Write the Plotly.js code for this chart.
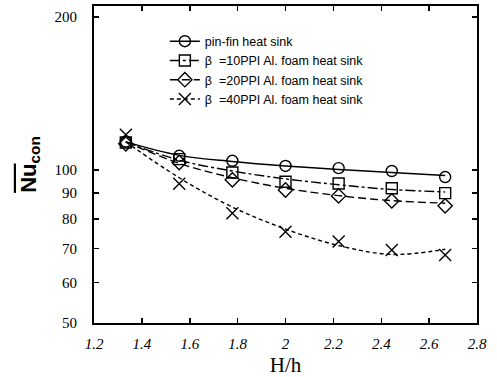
<!DOCTYPE html>
<html>
<head>
<meta charset="utf-8">
<script src="https://cdn.plot.ly/plotly-3.0.1.min.js"></script>
<style>html,body{margin:0;padding:0;background:#fff;}#chart{width:497px;height:377px;}</style>
</head>
<body>
<div id="chart"></div>
<script>
// H/h values
var hRatio = [1.333, 1.556, 1.778, 2.0, 2.222, 2.444, 2.667];

// measured points
var pinFin = [113.7, 106.6, 104.2, 101.8, 100.8, 99.5, 96.8];
var foam10 = [113.2, 105.0, 98.8, 94.8, 94.0, 92.0, 90.0];
var foam20 = [112.5, 103.4, 95.6, 91.3, 88.9, 86.9, 85.0];
var foam40 = [117.2, 93.9, 82.2, 75.6, 72.3, 69.6, 68.0];

// fitted curves as drawn in the figure
var pinFinFit = [113.5, 106.8, 103.9, 101.8, 100.2, 98.8, 97.5];
var foam10Fit = [113.5, 104.5, 99.5, 96.0, 93.5, 91.5, 90.5];
var foam20Fit = [113.5, 103.0, 96.5, 92.0, 89.0, 87.0, 86.0];
var foam40Fit = [113.5, 96.5, 84.5, 76.5, 71.0, 68.2, 69.8];

var names = ['pin-fin heat sink', '\u03b2  =10PPI Al. foam heat sink', '\u03b2  =20PPI Al. foam heat sink', '\u03b2  =40PPI Al. foam heat sink'];
var pointSets = [pinFin, foam10, foam20, foam40];
var fitSets = [pinFinFit, foam10Fit, foam20Fit, foam40Fit];

var symbols = ['circle-open', 'square-open', 'diamond-open', 'x-thin-open'];
var sizes = [11, 11, 11, 12];
var dashes = ['solid', '10px,3px,3px,3px', '8px,4px', '4px,3px'];

var traces = [];
for (var i = 0; i < 4; i++) {
  traces.push({
    x: hRatio, y: fitSets[i], mode: 'lines', type: 'scatter', line: {shape: 'spline', color: '#000', width: 1.4, dash: dashes[i]},
    showlegend: false, hoverinfo: 'skip'
  });
  traces.push({
    x: hRatio, y: pointSets[i], mode: 'markers', type: 'scatter',
    marker: {symbol: symbols[i], size: sizes[i], color: '#000', line: {color: '#000', width: 1.4}},
    showlegend: false
  });
}
for (var j = 0; j < 4; j++) {
  traces.push({
    x: [null], y: [null], mode: 'lines+markers', type: 'scatter', name: names[j],
    line: {color: '#000', width: 1.4, dash: dashes[j]},
    marker: {symbol: symbols[j], size: sizes[j], color: '#000', line: {color: '#000', width: 1.4}}
  });
}

var xTicks = [1.2, 1.4, 1.6, 1.8, 2, 2.2, 2.4, 2.6, 2.8];
var yTicks = [50, 60, 70, 80, 90, 100, 200];

var layout = {
  width: 497, height: 377,
  margin: {l: 94, r: 20, t: 6, b: 54},
  paper_bgcolor: '#fff', plot_bgcolor: '#fff',
  showlegend: true,
  legend: {x: 0.185, y: 0.935, xanchor: 'left', yanchor: 'top', bgcolor: 'rgba(0,0,0,0)', borderwidth: 0,
    font: {family: 'Liberation Sans, Arial, sans-serif', size: 12.5, color: '#000'}, tracegroupgap: 0},
  xaxis: {
    range: [1.2, 2.8], tickvals: xTicks, ticktext: xTicks.map(String),
    ticks: 'inside', ticklen: 5, tickwidth: 1.5, tickcolor: '#000',
    showline: true, linecolor: '#000', linewidth: 2, mirror: 'ticks', showgrid: false, zeroline: false,
    tickfont: {family: 'Liberation Serif, Times New Roman, serif', size: 15, color: '#000', style: 'italic'},
    ticklabelstandoff: 6,
    title: {text: 'H/h', font: {family: 'Liberation Serif, Times New Roman, serif', size: 21, color: '#000'}, standoff: 6}
  },
  yaxis: {
    type: 'log', range: [Math.log10(50), Math.log10(210)], tickvals: yTicks, ticktext: yTicks.map(String),
    ticks: 'inside', ticklen: 5, tickwidth: 1.5, tickcolor: '#000',
    showline: true, linecolor: '#000', linewidth: 2, mirror: 'ticks', showgrid: false, zeroline: false,
    tickfont: {family: 'Liberation Serif, Times New Roman, serif', size: 15, color: '#000'},
    ticklabelstandoff: 12,
    title: {text: '<b><span style="text-decoration:overline">Nu</span><sub>con</sub></b>', font: {family: 'Liberation Sans, Arial, sans-serif', size: 22, color: '#000'}, standoff: 12}
  }
};

Plotly.newPlot('chart', traces, layout, {staticPlot: true, displayModeBar: false});
</script>
</body>
</html>
